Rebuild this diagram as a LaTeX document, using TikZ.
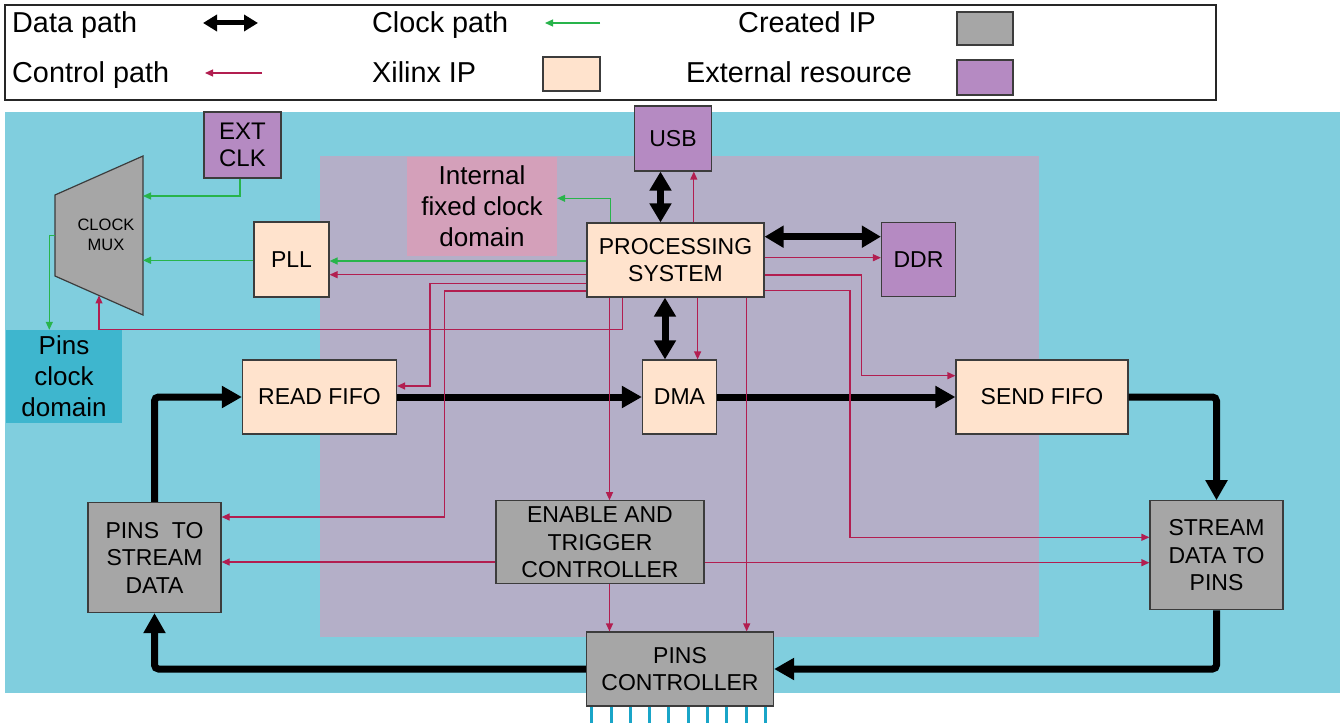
\documentclass[tikz,border=0pt]{standalone}
\usepackage{fontspec}
\setmainfont{Liberation Sans}
\usetikzlibrary{arrows.meta,calc}

\definecolor{bgcyan}{RGB}{128,206,222}
\definecolor{psregion}{RGB}{180,175,200}
\definecolor{peach}{RGB}{255,227,205}
\definecolor{ipgray}{RGB}{166,166,166}
\definecolor{extpurple}{RGB}{181,138,194}
\definecolor{ifcdpink}{RGB}{212,160,186}
\definecolor{pcdcyan}{RGB}{62,182,206}
\definecolor{clkgreen}{RGB}{40,180,75}
\definecolor{ctlred}{RGB}{178,30,80}
\definecolor{pinblue}{RGB}{25,165,200}
\definecolor{boxline}{RGB}{60,60,60}

\newcommand\bxfont{\fontsize{23}{27.5}\selectfont}
\newcommand\bigfont{\fontsize{26}{31}\selectfont}
\newcommand\legfont{\fontsize{28.8}{32}\selectfont}
\newcommand\muxfont{\fontsize{16.5}{20.5}\selectfont}

\begin{document}
\begin{tikzpicture}[x=1pt,y=-1pt,
  box/.style={draw=boxline, line width=1.2pt, align=center, inner sep=2pt, font=\bxfont},
  xil/.style={box, fill=peach},
  made/.style={box, fill=ipgray},
  ext/.style={box, fill=extpurple},
  domainbox/.style={align=center, inner sep=2pt, font=\bigfont},
  legtext/.style={font=\legfont, inner sep=0pt, anchor=base west},
  swatch/.style={draw=boxline, line width=1.2pt, inner sep=0pt},
  data/.style={line width=7pt, rounded corners=4pt, -{Triangle[length=20pt,width=21pt]}},
  databoth/.style={line width=7pt, {Triangle[length=19pt,width=21pt]}-{Triangle[length=19pt,width=21pt]}},
  clk/.style={draw=clkgreen, line width=1.2pt, -{Triangle[length=8pt,width=7pt]}},
  ctl/.style={draw=ctlred, line width=1.2pt, -{Triangle[length=8pt,width=7pt]}},
  pinstub/.style={draw=pinblue, line width=3pt}
]
\useasboundingbox (0,0) rectangle (1344,727);
\fill[white] (0,0) rectangle (1344,727);

% ---------- legend ----------
\draw[line width=1.2pt, draw=black!85] (5,5) rectangle (1216,100);
\node[legtext] (ldata) at (12,32.5) {Data path};
\node[legtext] (lclock) at (372,32.5) {Clock path};
\node[legtext] (lcreated) at (738,32.5) {Created IP};
\node[legtext] (lcontrol) at (12,82.5) {Control path};
\node[legtext] (lxilinx) at (372,82.5) {Xilinx IP};
\node[legtext] (lext) at (686,82.5) {External resource};
\coordinate (ldA) at (203,23);
\coordinate (ldB) at (258,23);
\draw[line width=5pt, {Triangle[length=14pt,width=16pt]}-{Triangle[length=14pt,width=16pt]}] (ldA) -- (ldB);
\coordinate (lcA) at (600,23);
\coordinate (lcB) at (545,23);
\draw[clk] (lcA) -- (lcB);
\coordinate (lrA) at (262,73);
\coordinate (lrB) at (205,73);
\draw[ctl] (lrA) -- (lrB);
\node[swatch, fill=ipgray, minimum width=56pt, minimum height=33pt] (swgray) at (985,28.5) {};
\node[swatch, fill=peach, minimum width=57pt, minimum height=34pt] (swpeach) at (571.5,74) {};
\node[swatch, fill=extpurple, minimum width=56pt, minimum height=35pt] (swext) at (985,77.5) {};

% ---------- regions ----------
\fill[bgcyan] (5,112) rectangle (1340,693);
\fill[psregion] (320,156) rectangle (1039,637);

% ---------- blocks ----------
\node[ext, minimum width=77pt, minimum height=66pt, font=\fontsize{24}{27}\selectfont] (extclk) at (242.5,145) {EXT\\CLK};

% clock multiplexer: trapezoid drawn on the anchors of an empty node
\node[minimum width=88pt, minimum height=159pt, inner sep=0pt, outer sep=0pt] (mux) at (99,235.5) {};
\coordinate (muxTL) at ($(mux.west)+(0,-40.5)$);
\coordinate (muxBL) at ($(mux.west)+(0,40.5)$);
\draw[fill=ipgray, draw=boxline, line width=1.2pt] (muxTL) -- (mux.north east) -- (mux.south east) -- (muxBL) -- cycle;
\node[font=\muxfont, align=center, inner sep=0pt] (muxtext) at (106,235) {CLOCK\\MUX};

\node[domainbox, fill=pcdcyan, minimum width=116pt, minimum height=93pt] (pcd) at (64,376.5) {Pins\\clock\\domain};
\node[xil, minimum width=75pt, minimum height=75pt] (pll) at (291.5,259.5) {PLL};
\node[domainbox, fill=ifcdpink, minimum width=150pt, minimum height=99pt] (ifcd) at (482,206.5) {Internal\\fixed clock\\domain};
\node[ext, minimum width=77pt, minimum height=65pt] (usb) at (673,138.5) {USB};
\node[xil, minimum width=177pt, minimum height=74pt] (ps) at (675.5,260) {PROCESSING\\SYSTEM};
\node[ext, minimum width=74pt, minimum height=74pt] (ddr) at (918.5,259.7) {DDR};
\node[xil, minimum width=154pt, minimum height=74pt] (rfifo) at (319.5,397) {READ FIFO};
\node[xil, minimum width=74pt, minimum height=74pt] (dma) at (679.5,397) {DMA};
\node[xil, minimum width=172pt, minimum height=74pt] (sfifo) at (1042,397) {SEND FIFO};
\node[made, minimum width=133pt, minimum height=110pt] (ptsd) at (154.5,557.5) {PINS\ \ TO\\STREAM\\DATA};
\node[made, minimum width=208pt, minimum height=83pt] (etc) at (600,542.3) {ENABLE AND\\TRIGGER\\CONTROLLER};
\node[made, minimum width=133pt, minimum height=109pt] (sdtp) at (1216.5,555.3) {STREAM\\DATA TO\\PINS};
\node[made, minimum width=187pt, minimum height=74pt] (pc) at (680,669) {PINS\\CONTROLLER};

% pins leaving the pins controller
\foreach \i in {0,...,9}
  \draw[pinstub] ($(pc.south west)+(5.8+19.3*\i,0)$) -- ++(0,16);

% ---------- data paths ----------
\draw[databoth] (usb.south -| 660.5,0) -- (ps.north -| 660.5,0);
\draw[databoth] (ps.east |- 0,236.7) -- (ddr.west |- 0,236.7);
\draw[databoth] (ps.south -| 665,0) -- (dma.north -| 665,0);
\draw[data] (rfifo.east) -- (dma.west);
\draw[data] (dma.east) -- (sfifo.west);
\draw[data] (sfifo.east) -| (sdtp.north);
\draw[data] (sdtp.south) |- (pc.east);
\draw[data] (pc.west) -| (ptsd.south);
\draw[data] (ptsd.north) |- (rfifo.west);

% ---------- clock paths ----------
\draw[clk] ([xshift=-2.5pt]extclk.south) |- (mux.east |- 0,196);
\draw[clk] (pll.west |- 0,260.3) -- (mux.east |- 0,260.3);
\draw[clk] (mux.west) -| (pcd.north -| 49.3,0);
\draw[clk] (ps.west |- 0,261) -- (pll.east |- 0,261);
\draw[clk] (ps.north -| 610.8,0) |- (ifcd.east |- 0,198.3);

% ---------- control paths ----------
\coordinate (muxin) at ($(muxBL)!0.5!(mux.south east)$);
\draw[ctl] (ps.west |- 0,274.7) -- (pll.east |- 0,274.7);
\draw[ctl] (ps.west |- 0,283.7) -| (430,386) -- (rfifo.east |- 0,386);
\draw[ctl] (ps.west |- 0,291) -| (444.3,517) -- (ptsd.east |- 0,517);
\draw[ctl] (ps.south -| 622.3,0) |- (muxin |- 0,329.3) -- (muxin);
\draw[ctl] (ps.south -| 609.5,0) -- (etc.north -| 609.5,0);
\draw[ctl] (etc.south -| 609.5,0) -- (pc.north -| 609.5,0);
\draw[ctl] (ps.south -| 697.6,0) -- (dma.north -| 697.6,0);
\draw[ctl] (ps.north -| 693.8,0) -- (usb.south -| 693.8,0);
\draw[ctl] (ps.east |- 0,257.7) -- (ddr.west |- 0,257.7);
\draw[ctl] (ps.east |- 0,275) -| (861.7,375.7) -- (sfifo.west |- 0,375.7);
\draw[ctl] (ps.east |- 0,290.7) -| (850,537.3) -- (sdtp.west |- 0,537.3);
\draw[ctl] (ps.south -| 746.7,0) -- (pc.north -| 746.7,0);
\draw[ctl] (etc.west |- 0,562) -- (ptsd.east |- 0,562);
\draw[ctl] (etc.east |- 0,562.7) -- (sdtp.west |- 0,562.7);
\end{tikzpicture}
\end{document}
